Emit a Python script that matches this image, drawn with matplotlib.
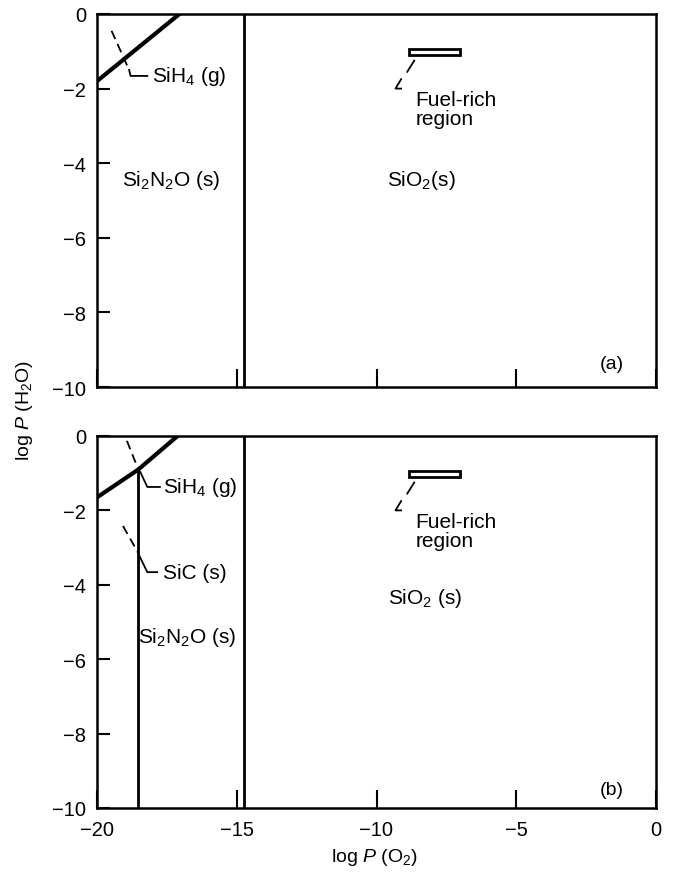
import numpy as np
import matplotlib
matplotlib.use('Agg')
from matplotlib import pyplot as plt
from matplotlib.patches import Rectangle

plt.rcParams['font.family'] = ['Liberation Sans', 'DejaVu Sans']
plt.rcParams['mathtext.fontset'] = 'custom'
plt.rcParams['mathtext.rm'] = 'Liberation Sans'
plt.rcParams['mathtext.it'] = 'Liberation Sans:italic'

line_color = '#000000'
label_size = 15

x_ticks = [-20, -15, -10, -5, 0]
y_ticks = [0, -2, -4, -6, -8, -10]

# panel (a)
a_sih4_x = [-20, -17.05]
a_sih4_y = [-1.8, 0]
a_dash_x = [-19.48, -18.85]
a_dash_y = [-0.45, -1.5]
a_lead_x = [-18.85, -18.8, -18.2]
a_lead_y = [-1.5, -1.66, -1.66]
a_wall_x = -14.75

# panel (b)
b_sih4_x = [-20, -18.52, -17.12]
b_sih4_y = [-1.65, -0.9, 0]
b_sic_wall_x = -18.52
b_sic_wall_top = -0.9
b_wall_x = -14.75
b_dash_sih4_x = [-18.93, -18.52]
b_dash_sih4_y = [-0.13, -0.9]
b_lead_sih4_x = [-18.45, -18.2, -17.75]
b_lead_sih4_y = [-0.97, -1.37, -1.37]
b_dash_sic_x = [-19.07, -18.52]
b_dash_sic_y = [-2.42, -3.15]
b_lead_sic_x = [-18.5, -18.2, -17.85]
b_lead_sic_y = [-3.2, -3.66, -3.66]

fuel_x = (-8.85, -7.0)
fuel_y = (-1.1, -0.94)
fuel_lead_x = [-8.65, -8.9, -9.12, -9.32, -9.12]
fuel_lead_y = [-1.25, -1.55, -1.75, -2.0, -2.0]

fig = plt.figure(figsize=(6.74, 8.79), dpi=100)
ax1 = fig.add_axes([97 / 674, 1 - 388 / 879, 559 / 674, 373 / 879])
ax2 = fig.add_axes([97 / 674, 1 - 809 / 879, 559 / 674, 372 / 879])

for ax in (ax1, ax2):
    ax.set_xlim(-20, 0)
    ax.set_ylim(-10, 0)
    ax.set_xticks(x_ticks)
    ax.set_yticks(y_ticks)
    ax.set_yticklabels(['0', '\u22122', '\u22124', '\u22126', '\u22128', '\u221210'])
    ax.tick_params(axis='x', direction='in', length=13, width=1.5, pad=9,
                   labelsize=14.5, top=False)
    ax.tick_params(axis='y', direction='in', length=9, width=1.5, pad=8,
                   labelsize=14.5, right=False)
    for s in ax.spines.values():
        s.set_linewidth(1.8)
    # fuel-rich box
    ax.add_patch(Rectangle((fuel_x[0], fuel_y[0]), fuel_x[1] - fuel_x[0],
                           fuel_y[1] - fuel_y[0], facecolor='white',
                           edgecolor=line_color, lw=2))
    ax.plot(fuel_lead_x[:2], fuel_lead_y[:2], color=line_color, lw=1.3)
    ax.plot(fuel_lead_x[2:], fuel_lead_y[2:], color=line_color, lw=1.3)
    ax.text(-8.6, -2.05, 'Fuel-rich\nregion', fontsize=label_size, va='top',
            ha='left', linespacing=1.0)

ax1.set_xticklabels([])
ax2.set_xticklabels(['\u221220', '\u221215', '\u221210', '\u22125', '0'])

# panel (a)
ax1.plot(a_sih4_x, a_sih4_y, color=line_color, lw=3)
ax1.plot(a_dash_x, a_dash_y, color=line_color, lw=1.3, ls=(0, (5, 3)))
ax1.plot(a_lead_x, a_lead_y, color=line_color, lw=1.3)
ax1.axvline(a_wall_x, color=line_color, lw=2)
ax1.text(-18.05, -1.66, 'SiH$_4$ (g)', fontsize=label_size, va='center', ha='left')
ax1.text(-19.1, -4.45, 'Si$_2$N$_2$O (s)', fontsize=label_size, va='center', ha='left')
ax1.text(-8.4, -4.45, 'SiO$_2$(s)', fontsize=label_size, va='center', ha='center')
ax1.text(-1.15, -9.38, '(a)', fontsize=14, va='center', ha='right')

# panel (b)
ax2.plot(b_sih4_x, b_sih4_y, color=line_color, lw=3)
ax2.plot([b_sic_wall_x, b_sic_wall_x], [-10, b_sic_wall_top], color=line_color, lw=2)
ax2.axvline(b_wall_x, color=line_color, lw=2)
ax2.plot(b_dash_sih4_x, b_dash_sih4_y, color=line_color, lw=1.3, ls=(0, (5, 3)))
ax2.plot(b_lead_sih4_x, b_lead_sih4_y, color=line_color, lw=1.3)
ax2.plot(b_dash_sic_x, b_dash_sic_y, color=line_color, lw=1.3, ls=(0, (5, 3)))
ax2.plot(b_lead_sic_x, b_lead_sic_y, color=line_color, lw=1.3)
ax2.text(-17.65, -1.37, 'SiH$_4$ (g)', fontsize=label_size, va='center', ha='left')
ax2.text(-17.65, -3.66, 'SiC (s)', fontsize=label_size, va='center', ha='left')
ax2.text(-18.55, -5.38, 'Si$_2$N$_2$O (s)', fontsize=label_size, va='center', ha='left')
ax2.text(-8.25, -4.35, 'SiO$_2$ (s)', fontsize=label_size, va='center', ha='center')
ax2.text(-1.15, -9.5, '(b)', fontsize=14, va='center', ha='right')

fig.text(25 / 674, 1 - 410 / 879, 'log $P$ (H$_2$O)', rotation=90,
         fontsize=14, va='center', ha='center')
fig.text(375 / 674, 1 - 858 / 879, 'log $P$ (O$_2$)', fontsize=14,
         va='center', ha='center')

plt.savefig('out.png', dpi=100)
